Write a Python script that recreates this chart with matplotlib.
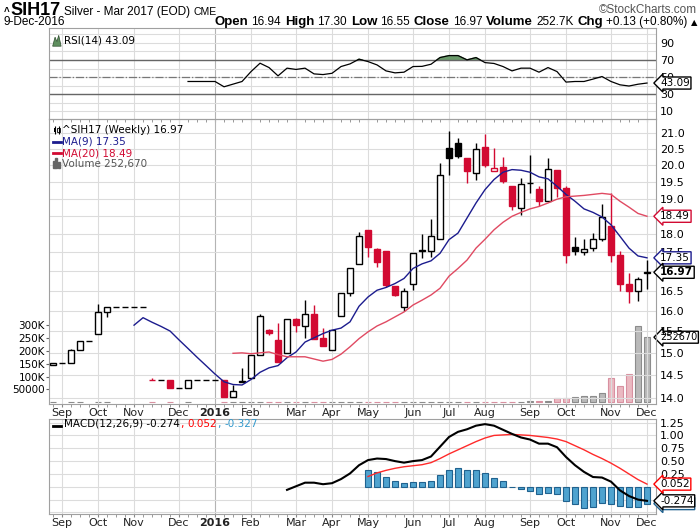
import numpy as np
import pandas as pd
import matplotlib
matplotlib.use('Agg')
import matplotlib.pyplot as plt
from matplotlib.ticker import NullLocator, FuncFormatter
from matplotlib.transforms import IdentityTransform
from matplotlib.patches import Polygon, Rectangle

nan = np.nan

# weekly bars, Aug 31 2015 .. Dec 5 2016
weeks = pd.date_range('2015-08-31', periods=67, freq='W-MON')

opens = [14.73, 14.77, 14.78, 15.07, 15.28, 15.45, 15.98, 16.08, 16.08, 16.08,
         16.08, 14.40, 14.40, 14.40, 14.21, 14.21, 14.40, 14.40, 14.40, 14.40,
         14.01, 14.35, 14.43, 14.96, 15.53, 15.31, 15.00, 15.79, 15.64, 15.93,
         15.34, 15.07, 15.87, 16.43, 17.18, 18.11, 17.58, 17.54, 16.62, 16.08,
         16.68, 17.54, 17.54, 17.86, 20.54, 20.70, 20.21, 19.77, 20.57, 19.81,
         19.95, 19.38, 18.73, 19.45, 19.28, 18.92, 19.84, 19.31, 17.65, 17.51,
         17.61, 17.87, 18.22, 17.43, 16.66, 16.49, 16.94]
highs = [14.77, 14.77, 15.09, 15.28, 15.28, 16.16, 16.08, 16.08, 16.08, 16.08,
         16.08, 14.43, 14.40, 14.40, 14.21, 14.40, 14.40, 14.40, 14.40, 14.40,
         14.29, 14.66, 14.96, 15.93, 15.56, 15.69, 15.81, 15.83, 16.26, 16.15,
         15.59, 15.53, 16.45, 17.07, 18.05, 18.11, 17.61, 17.54, 16.62, 16.56,
         17.49, 18.00, 18.42, 20.07, 21.07, 20.86, 20.21, 20.68, 20.97, 20.54,
         20.26, 19.38, 19.61, 20.30, 19.38, 20.23, 19.86, 19.36, 17.91, 17.86,
         18.02, 18.85, 19.15, 17.52, 16.94, 16.84, 17.30]
lows = [14.73, 14.77, 14.78, 15.07, 15.28, 15.45, 15.85, 16.08, 16.08, 16.08,
        16.08, 14.40, 14.40, 14.21, 14.21, 14.21, 14.40, 14.40, 14.40, 14.01,
        14.01, 14.35, 14.43, 14.96, 15.41, 14.79, 15.00, 15.49, 15.35, 15.33,
        15.15, 15.07, 15.87, 16.37, 17.18, 17.37, 17.12, 16.58, 16.36, 15.99,
        16.52, 17.34, 17.37, 17.86, 19.71, 20.21, 19.46, 19.54, 19.94, 19.81,
        19.46, 18.66, 18.54, 19.17, 18.77, 18.92, 19.05, 17.21, 17.43, 17.43,
        17.54, 17.80, 17.23, 16.49, 16.19, 16.24, 16.55]
closes = [14.77, 14.77, 15.07, 15.28, 15.28, 15.98, 16.08, 16.08, 16.08, 16.08,
          16.08, 14.40, 14.40, 14.21, 14.21, 14.40, 14.40, 14.40, 14.40, 14.01,
          14.15, 14.37, 14.96, 15.87, 15.47, 14.79, 15.81, 15.65, 15.93, 15.33,
          15.15, 15.53, 16.45, 17.07, 17.93, 17.65, 17.25, 16.64, 16.39, 16.50,
          17.49, 17.55, 17.95, 19.71, 20.23, 20.28, 19.81, 20.51, 20.00, 19.92,
          19.51, 18.79, 19.43, 19.47, 18.92, 19.89, 19.31, 17.43, 17.52, 17.58,
          17.87, 18.47, 17.43, 16.68, 16.50, 16.79, 16.97]
volume = [1000, 0, 1500, 1200, 0, 1500, 1200, 0, 0, 0,
          0, 800, 0, 1000, 0, 800, 0, 0, 0, 1500,
          1200, 1000, 1200, 1500, 1000, 1200, 1000, 1000, 1200, 1000,
          1000, 1000, 1200, 1200, 1500, 1200, 1000, 1200, 1000, 1000,
          1200, 1000, 1000, 1500, 1500, 1200, 1000, 1200, 1000, 2500,
          1000, 2500, 1500, 4000, 4000, 4000, 15600, 15600, 19500, 24500,
          24500, 35000, 93500, 63500, 109000, 297000, 252670]

ma9 = [nan] * 9 + [
    15.65, 15.83, 15.72, 15.62, 15.51, 15.30, 15.10, 14.90, 14.71, 14.52,
    14.35, 14.29, 14.28, 14.40, 14.56, 14.66, 14.71, 14.89, 15.02, 15.25,
    15.35, 15.45, 15.53, 15.58, 15.73, 16.11, 16.34, 16.51, 16.58, 16.68,
    16.81, 17.07, 17.19, 17.27, 17.47, 17.84, 18.02, 18.44, 18.87, 19.26,
    19.56, 19.78, 19.86, 19.84, 19.78, 19.64, 19.58, 19.36, 19.12, 18.92,
    18.70, 18.60, 18.47, 18.25, 17.93, 17.61, 17.40, 17.35]
ma20 = [nan] * 20 + [
    14.99, 15.00, 14.98, 15.00, 15.02, 14.96, 14.91, 14.91, 14.91, 14.86,
    14.81, 14.85, 14.97, 15.14, 15.33, 15.49, 15.63, 15.73, 15.85, 15.97,
    16.14, 16.26, 16.39, 16.56, 16.87, 17.07, 17.29, 17.61, 17.85, 18.11,
    18.32, 18.49, 18.60, 18.70, 18.77, 18.87, 18.98, 19.05, 19.07, 19.09,
    19.12, 19.15, 19.12, 18.92, 18.75, 18.57, 18.49]

rsi = [nan] * 15 + [
    44.9, 44.9, 44.9, 44.9, 38.7, 41.8, 44.9, 56.5, 66.3, 61.2,
    51.5, 60.5, 59.0, 60.5, 53.8, 53.0, 54.5, 62.4, 65.5, 71.0,
    68.2, 64.3, 57.3, 55.0, 55.8, 62.4, 62.6, 65.1, 72.9, 75.2,
    75.2, 70.2, 72.9, 67.0, 66.0, 62.4, 57.3, 60.5, 60.5, 55.8,
    61.2, 56.5, 44.2, 44.9, 44.9, 47.7, 50.7, 44.9, 41.0, 39.6,
    41.7, 43.09]

macd = [nan] * 26 + [
    -0.06, 0.01, 0.08, 0.08, 0.05, 0.07, 0.15, 0.26, 0.42, 0.52,
    0.55, 0.54, 0.50, 0.47, 0.50, 0.52, 0.59, 0.78, 0.97, 1.07,
    1.12, 1.19, 1.22, 1.19, 1.11, 1.03, 0.96, 0.92, 0.84, 0.84,
    0.77, 0.58, 0.42, 0.29, 0.19, 0.18, 0.10, -0.07, -0.18, -0.25,
    -0.274]
signal = [nan] * 35 + [
    0.20, 0.27, 0.32, 0.36, 0.39, 0.41, 0.43, 0.47, 0.55, 0.64,
    0.72, 0.80, 0.88, 0.95, 1.00, 1.01, 1.02, 1.01, 1.00, 0.98,
    0.96, 0.93, 0.88, 0.80, 0.72, 0.63, 0.55, 0.46, 0.36, 0.25,
    0.14, 0.052]
hist = [nan] * 35 + [
    0.32, 0.28, 0.20, 0.12, 0.07, 0.09, 0.09, 0.11, 0.22, 0.32,
    0.36, 0.32, 0.32, 0.26, 0.18, 0.11, -0.01, -0.05, -0.08, -0.15,
    -0.13, -0.15, -0.28, -0.34, -0.41, -0.39, -0.32, -0.34, -0.38, -0.40,
    -0.39, -0.327]

red = '#d20a32'
navy = '#1c1c8e'
grid_c = '#dcdcdc'
W_PX, H_PX = 700, 530

fig = plt.figure(figsize=(7, 5.3), dpi=100)
renderer = fig.canvas.get_renderer()


def panel(top, bottom):
    return fig.add_axes([49 / W_PX, 1 - bottom / H_PX, 607 / W_PX, (bottom - top) / H_PX])


ax_rsi = panel(28, 119)
ax = panel(119, 404)
ax_macd = panel(419, 514)

x = np.arange(len(weeks))
month_pos = [i for i in range(1, len(weeks)) if weeks[i].month != weeks[i - 1].month]
month_lbl = [str(weeks[i].year) if weeks[i].month == 1 else weeks[i].strftime('%b') for i in month_pos]


def style(a, labels=True):
    a.set_xlim(-0.45, 67.0)
    a.set_xticks(month_pos)
    a.set_xticks(x, minor=True)
    if labels:
        a.set_xticklabels(month_lbl, fontsize=8, color='#222222')
        for t in a.get_xticklabels():
            if t.get_text().isdigit():
                t.set_fontweight('bold')
    else:
        a.set_xticklabels([])
    a.tick_params(axis='x', which='both', length=2, color='#888888', pad=1)
    a.tick_params(axis='y', length=0, labelsize=8, pad=3)
    for s in a.spines.values():
        s.set_color('#a0a0a0')
    a.grid(axis='x', color=grid_c, lw=0.8)
    for g, lb in zip(a.get_xgridlines(), month_lbl):
        if lb.isdigit():
            g.set_color('#b4b4b4')
    a.set_axisbelow(True)


def tag(a, y, s, ec, bold=False, tc='black', size=7.5):
    a.annotate(s, xy=(1, y), xycoords=('axes fraction', 'data'), xytext=(3, 0),
               textcoords='offset points', ha='left', va='center', fontsize=size, color=tc,
               fontweight='bold' if bold else 'normal', annotation_clip=False, zorder=10,
               bbox=dict(boxstyle='larrow,pad=0.1', fc='white', ec=ec, lw=1))


def seg_line(parts, x0, y_top, right=False):
    # parts: (text, style kwargs, gap after in px)
    objs = []
    cx = x0
    last_gap = 0
    for s, kw, gap in parts:
        t = fig.text(cx, H_PX - y_top, s, transform=IdentityTransform(), va='baseline', **kw)
        w = t.get_window_extent(renderer).width
        objs.append(t)
        cx += w + gap
        last_gap = gap
    if right:
        shift = cx - last_gap - x0
        for t in objs:
            px, py = t.get_position()
            t.set_position((px - shift, py))


# ---------------- RSI panel
rsi_a = np.array(rsi)
ax_rsi.plot(x, rsi_a, color='black', lw=0.9, zorder=3)
ax_rsi.fill_between(x, rsi_a, 70, where=rsi_a > 70, interpolate=True, color='#6a9a6a', zorder=2)
ax_rsi.axhline(70, color='#666666', lw=1)
ax_rsi.axhline(30, color='#666666', lw=1)
ax_rsi.axhline(50, color='#777777', lw=0.9, ls='-.')
ax_rsi.set_ylim(1, 107.5)
ax_rsi.yaxis.tick_right()
ax_rsi.set_yticks([10, 30, 50, 70, 90])
ax_rsi.set_yticks([20, 40, 60, 80, 100], minor=True)
ax_rsi.tick_params(axis='y', which='minor', length=0)
ax_rsi.grid(axis='y', which='both', color=grid_c, lw=0.8)
style(ax_rsi, labels=False)
ax_rsi.add_patch(Polygon([[0.006, 0.80], [0.010, 0.90], [0.013, 0.85], [0.016, 0.92], [0.020, 0.80]],
                         closed=True, transform=ax_rsi.transAxes, fc='#5f8f5f', ec='#2f4f2f', lw=0.5))
ax_rsi.text(0.024, 0.86, 'RSI(14) 43.09', transform=ax_rsi.transAxes, fontsize=7.5, va='center')
tag(ax_rsi, rsi[-1], '43.09', 'black')

# ---------------- price panel with volume
vol = ax.twinx()
ax.yaxis.tick_right()
vol.yaxis.tick_left()
ax.set_zorder(vol.get_zorder() + 1)
ax.patch.set_visible(False)

o = np.array(opens)
h = np.array(highs)
l = np.array(lows)
c = np.array(closes)
prev = np.r_[c[0], c[:-1]]
down = c < prev
col = np.where(down, red, 'black')
face = np.where(c < o, col, 'white')

v = np.array(volume, dtype=float)
m = v > 0
vol.bar(x[m], v[m], width=0.75, color=np.where(down, '#eab9c1', '#b9b9b9')[m],
        edgecolor=np.where(down, '#d890a0', '#8c8c8c')[m], linewidth=0.8)
vol.set_ylim(-6600, 1100000)
vol.set_yticks([50000, 100000, 150000, 200000, 250000, 300000])
vol.set_yticklabels(['50000', '100K', '150K', '200K', '250K', '300K'])
vol.tick_params(axis='y', length=2, labelsize=7.5, pad=1, color='#666666')
for s in vol.spines.values():
    s.set_visible(False)

ax.vlines(x, l, h, colors=col, lw=1, zorder=3)
ax.bar(x, np.abs(c - o), bottom=np.minimum(o, c), width=0.68, color=face,
       edgecolor=col, linewidth=1, zorder=4)
ax.plot(x, ma9, color=navy, lw=1, zorder=5)
ax.plot(x, ma20, color='#e04a62', lw=1, zorder=5)

ax.set_yscale('log')
ax.set_ylim(13.87, 21.46)
ax.yaxis.set_minor_locator(NullLocator())
ax.set_yticks(np.arange(14, 21.01, 0.5))
ax.yaxis.set_major_formatter(FuncFormatter(
    lambda val, pos: '' if round(val, 1) in (17.0, 18.5) else '%.1f' % val))
ax.yaxis.set_minor_formatter(FuncFormatter(lambda val, pos: ''))
ax.grid(axis='y', color=grid_c, lw=0.8)
style(ax)
vol.set_xlim(ax.get_xlim())

lx = 0.022
ax.text(lx, (404 - 130) / 285, '^SIH17 (Weekly) 16.97', transform=ax.transAxes, fontsize=7.5, va='center')
ax.text(lx, (404 - 142) / 285, 'MA(9) 17.35', transform=ax.transAxes, fontsize=7.5, va='center', color=navy)
ax.text(lx, (404 - 153) / 285, 'MA(20) 18.49', transform=ax.transAxes, fontsize=7.5, va='center', color=red)
ax.text(lx, (404 - 164) / 285, 'Volume 252,670', transform=ax.transAxes, fontsize=7.5, va='center', color='#555555')
for yy, cc in [(142, navy), (153, red)]:
    ax.plot([0.006, 0.019], [(404 - yy) / 285] * 2, transform=ax.transAxes, color=cc, lw=2, clip_on=False)
for k, hh in enumerate([0.025, 0.035, 0.02]):
    ax.add_patch(Rectangle((0.006 + k * 0.0045, (404 - 168) / 285), 0.0035, hh,
                           transform=ax.transAxes, color='#666666'))
ax.vlines([0.010, 0.016], (404 - 134) / 285, (404 - 126) / 285, transform=ax.transAxes, color='black', lw=0.8)
ax.add_patch(Rectangle((0.008, (404 - 132) / 285), 0.004, 0.015, transform=ax.transAxes, fc='black'))
ax.add_patch(Rectangle((0.014, (404 - 132) / 285), 0.004, 0.015, transform=ax.transAxes, fc='white', ec='black', lw=0.6))

tag(ax, ma20[-1], '18.49', red)
tag(ax, ma9[-1], '17.35', navy)
tag(ax, closes[-1], '16.97', 'black', bold=True)
tag(vol, volume[-1], '252670', 'black', size=7)

# ---------------- MACD panel
ax_macd.bar(x, hist, width=0.68, color='#4fa3cf', edgecolor='#20628f', linewidth=0.8, zorder=2)
ax_macd.plot(x, signal, color='#ff2a2a', lw=1, zorder=3)
ax_macd.plot(x, macd, color='black', lw=1.5, zorder=4)
ax_macd.set_ylim(-0.53, 1.32)
ax_macd.yaxis.tick_right()
ax_macd.set_yticks(np.arange(-0.5, 1.26, 0.25))
ax_macd.yaxis.set_major_formatter(FuncFormatter(lambda val, pos: '%.2f' % val if val > 0.1 else ''))
ax_macd.grid(axis='y', color=grid_c, lw=0.8)
style(ax_macd)
tag(ax_macd, hist[-1], '-0.327', '#20628f')
tag(ax_macd, macd[-1], '-0.274', 'black')
tag(ax_macd, signal[-1], '0.052', 'red')
ax_macd.plot([0.006, 0.019], [0.93, 0.93], transform=ax_macd.transAxes, color='black', lw=2)

leg = dict(family='DejaVu Sans', fontsize=7.5)
seg_line([('MACD(12,26,9) -0.274', dict(leg, color='black'), 0),
          (',', dict(leg, color='red'), 4),
          ('0.052', dict(leg, color='red'), 0),
          (',', dict(leg, color='#3399cc'), 4),
          ('-0.327', dict(leg, color='#3399cc'), 0)], 64, 427)

# ---------------- header
narrow = ['Liberation Sans Narrow', 'Liberation Sans', 'DejaVu Sans']
B = dict(family=narrow, fontsize=9.5, fontweight='bold')
N = dict(family=narrow, fontsize=8.5)
seg_line([('^', dict(family=narrow, fontsize=7, fontweight='bold'), 1),
          ('SIH17', dict(family=narrow, fontsize=13, fontweight='bold'), 3),
          ('Silver - Mar 2017 (EOD)', dict(family=narrow, fontsize=8.5), 3),
          ('CME', dict(family=narrow, fontsize=7.5), 0)], 4, 15)
seg_line([('\u00a9StockCharts.com', dict(family=narrow, fontsize=8.5, color='#555555'), 0)], 697, 13, right=True)
seg_line([('9-Dec-2016', N, 0)], 4, 25)
seg_line([('Open', B, 3), ('16.94', N, 4), ('High', B, 3), ('17.30', N, 4), ('Low', B, 3), ('16.55', N, 4),
          ('Close', B, 3), ('16.97', N, 4), ('Volume', B, 3), ('252.7K', N, 4), ('Chg', B, 3),
          ('+0.13 (+0.80%)', N, 3), ('\u25b2', dict(family='DejaVu Sans', fontsize=6), 0)],
         697, 25, right=True)

fig.savefig('out.png', dpi=100)
